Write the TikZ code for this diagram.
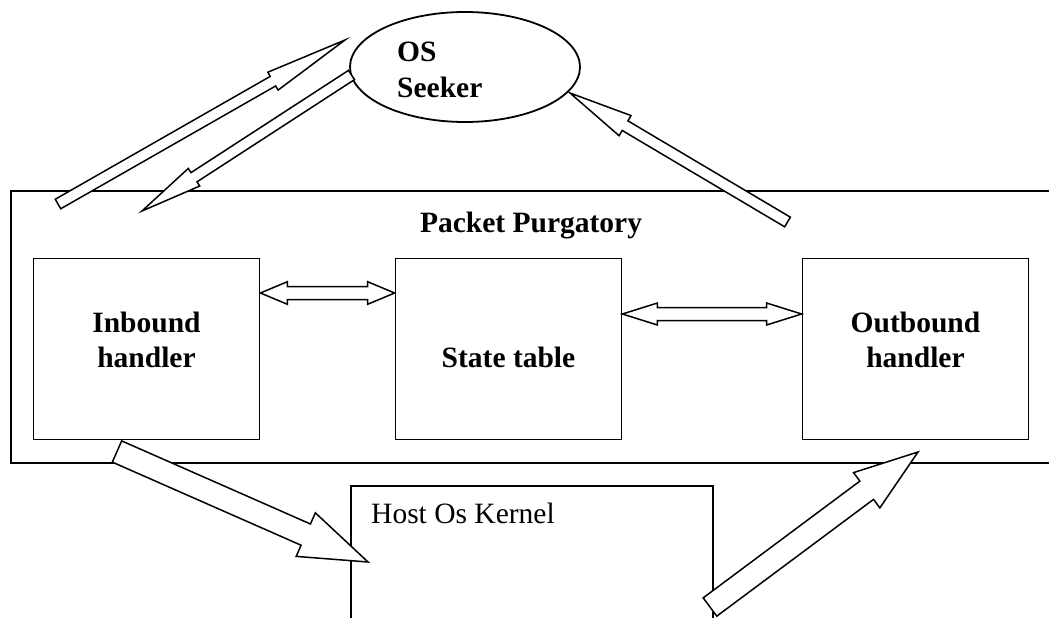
\documentclass[tikz,border=0pt]{standalone}
\usepackage{fontspec}
\setmainfont{Liberation Serif}
\usetikzlibrary{calc,shapes.geometric}

\tikzset{
  outline/.style={draw=black, line width=1.8pt},
  box/.style={outline, rectangle, inner sep=0pt, minimum width=226pt, minimum height=181pt},
  frame/.style={outline, rectangle, inner sep=0pt, anchor=north west},
  blockarrow/.style={draw=black, fill=white, line width=1.5pt, line join=miter},
  boldtext/.style={font=\bfseries\fontsize{29.5}{35}\selectfont, inner sep=0pt, anchor=base},
  plaintext/.style={font=\fontsize{29.5}{35}\selectfont, inner sep=0pt, anchor=base west},
}

% single block arrow: tail, tip, half shaft width, half head width, head length
\newcommand\singleblock[5]{%
  \path ($(#2)!#5!(#1)$) coordinate (sb-base);
  \draw[blockarrow] ($(#1)!#3!90:(#2)$) -- ($(sb-base)!#3!90:(#2)$)
    -- ($(sb-base)!#4!90:(#2)$) -- (#2) -- ($(sb-base)!#4!-90:(#2)$)
    -- ($(sb-base)!#3!-90:(#2)$) -- ($(#1)!#3!-90:(#2)$) -- cycle;
}
% double block arrow: end A, end B, half shaft width, half head width, head length
\newcommand\doubleblock[5]{%
  \path ($(#1)!#5!(#2)$) coordinate (db-a) ($(#2)!#5!(#1)$) coordinate (db-b);
  \draw[blockarrow] (#1) -- ($(db-a)!#4!90:(#2)$) -- ($(db-a)!#3!90:(#2)$)
    -- ($(db-b)!#3!-90:(#1)$) -- ($(db-b)!#4!-90:(#1)$) -- (#2)
    -- ($(db-b)!#4!90:(#1)$) -- ($(db-b)!#3!90:(#1)$)
    -- ($(db-a)!#3!-90:(#2)$) -- ($(db-a)!#4!-90:(#2)$) -- cycle;
}

\begin{document}
\begin{tikzpicture}[x=1pt,y=-1pt]
\useasboundingbox (0,0) rectangle (1049,618);
\clip (0,0) rectangle (1049,618);

% containers
\node[frame, minimum width=1080pt, minimum height=272pt] (purgatory) at (10,190) {};
\node[frame, minimum width=362pt, minimum height=200pt] (kernel) at (350,485) {};
\node[plaintext] (kerneltext) at (371,523) {Host Os Kernel};

% OS Seeker
\node[outline, ellipse, inner sep=0pt, minimum width=230pt, minimum height=110pt] (seeker) at (465,67) {};
\node[boldtext, anchor=base west] (seekerA) at (397,62) {OS};
\node[boldtext, anchor=base west] (seekerB) at (397,97) {Seeker};

\node[boldtext] (purgatorytitle) at (531,232) {Packet Purgatory};

% handlers and state table
\node[box] (inbound) at (146.5,349) {};
\node[box] (state) at (508.5,349) {};
\node[box] (outbound) at (915.5,349) {};
\node[boldtext] (inboundA) at (146.5,332) {Inbound};
\node[boldtext] (inboundB) at (146.5,367) {handler};
\node[boldtext] (statetext) at (508.5,367) {State table};
\node[boldtext] (outboundA) at (915.5,332) {Outbound};
\node[boldtext] (outboundB) at (915.5,367) {handler};

% arrow end points
\coordinate (upA-tail) at (58,204);
\coordinate (upA-tip) at (345,40);
\coordinate (downA-tail) at (351.5,75);
\coordinate (downA-tip) at (142,211);
\coordinate (upB-tail) at (787.5,222);
\coordinate (upB-tip) at (570,93);
\coordinate (toKernel-tail) at (117,451.5);
\coordinate (toKernel-tip) at (368,562);
\coordinate (fromKernel-tail) at (710,607);
\coordinate (fromKernel-tip) at (918,452);
\coordinate (rowA) at (0,293);
\coordinate (rowB) at (0,314);

% block arrows
\singleblock{upA-tail}{upA-tip}{5.5pt}{10.3pt}{83pt}
\singleblock{downA-tail}{downA-tip}{5.5pt}{10.5pt}{62pt}
\singleblock{upB-tail}{upB-tip}{5.6pt}{11.7pt}{64pt}
\singleblock{toKernel-tail}{toKernel-tip}{11.6pt}{23.8pt}{68pt}
\singleblock{fromKernel-tail}{fromKernel-tip}{11.4pt}{22pt}{64pt}
\doubleblock{inbound.east |- rowA}{state.west |- rowA}{6.5pt}{11.3pt}{27pt}
\doubleblock{state.east |- rowB}{outbound.west |- rowB}{6.5pt}{11pt}{35pt}
\end{tikzpicture}
\end{document}
